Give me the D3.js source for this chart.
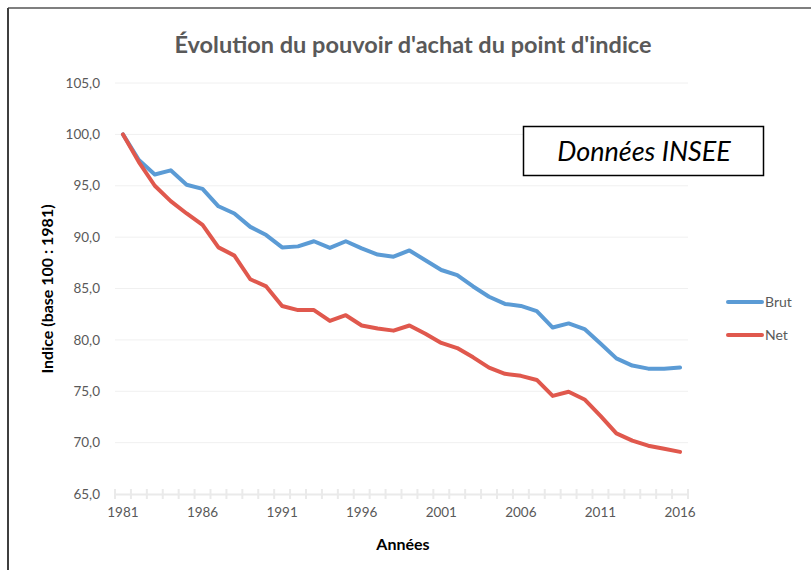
<!DOCTYPE html>
<html><head><meta charset="utf-8">
<script src="https://cdn.jsdelivr.net/npm/d3@7"></script>
<style>body{margin:0;background:#fff;} svg{display:block;}</style>
</head><body>
<svg id="c" width="811" height="570"></svg>
<script>
const years = d3.range(1981, 2017);
const brut = [100.0,97.5,96.1,96.5,95.1,94.7,93.0,92.3,91.0,90.2,89.0,89.1,89.6,88.95,89.6,88.9,88.3,88.1,88.7,87.75,86.8,86.3,85.2,84.2,83.5,83.3,82.8,81.2,81.6,81.05,79.65,78.2,77.5,77.2,77.2,77.3];
const net  = [100.0,97.3,95.0,93.5,92.3,91.2,89.0,88.2,85.9,85.2,83.3,82.9,82.9,81.85,82.4,81.4,81.1,80.9,81.4,80.6,79.7,79.2,78.3,77.3,76.7,76.5,76.1,74.55,74.95,74.2,72.6,70.9,70.2,69.7,69.4,69.1];
const yTicks = [65,70,75,80,85,90,95,100,105];
const xTickYears = [1981,1986,1991,1996,2001,2006,2011,2016];
const seriesNames = ["Brut","Net"];
const colors = ["#5B9BD5","#E0584D"];

const svg = d3.select("#c");
const font = "Lato, 'Open Sans', sans-serif";

// frame
svg.append("line").attr("x1",8).attr("x2",811).attr("y1",8).attr("y2",8).attr("stroke","#7f7f7f").attr("stroke-width",2);
svg.append("line").attr("x1",8).attr("x2",8).attr("y1",8).attr("y2",570).attr("stroke","#3f3f3f").attr("stroke-width",2);

const x = d3.scaleBand().domain(years).range([115, 688]);
const y = d3.scaleLinear().domain([65,105]).range([494, 83]);
const xc = d => x(d) + x.bandwidth()/2;

// grid
svg.append("g").selectAll("line").data(yTicks.filter(t=>t>65)).join("line")
  .attr("x1",115).attr("x2",688).attr("y1",d=>y(d)).attr("y2",d=>y(d))
  .attr("stroke","#f0f0f0").attr("stroke-width",1);

// y labels
const fmt = v => d3.format(".1f")(v).replace(".", ",");
svg.append("g").selectAll("text").data(yTicks).join("text")
  .attr("x",100).attr("y",d=>y(d)).attr("dy","0.35em").attr("text-anchor","end")
  .attr("font-family",font).attr("font-size",13.5).attr("fill","#595959").text(fmt);

// x axis
const xAxis = d3.axisBottom(x).tickValues([]).tickSizeOuter(0);
const ax = svg.append("g").attr("transform","translate(0,494)").call(xAxis);
ax.select(".domain").attr("stroke","#eaeaea").attr("stroke-width",2);
const bounds = years.map(d=>x(d)).concat([688]);
svg.append("g").selectAll("line").data(bounds).join("line")
  .attr("x1",d=>d).attr("x2",d=>d).attr("y1",489).attr("y2",499)
  .attr("stroke","#eaeaea").attr("stroke-width",2);
svg.append("g").selectAll("text").data(xTickYears).join("text")
  .attr("x",d=>xc(d)).attr("y",517).attr("text-anchor","middle")
  .attr("font-family",font).attr("font-size",13.5).attr("fill","#595959").text(d=>d);

// lines
const line = d3.line().x((d,i)=>xc(years[i])).y(d=>y(d));
[brut, net].forEach((s,i)=>{
  svg.append("path").datum(s).attr("d",line).attr("fill","none")
    .attr("stroke",colors[i]).attr("stroke-width",4).attr("stroke-linejoin","round").attr("stroke-linecap","round");
});

// title
svg.append("text").attr("x",413).attr("y",53).attr("text-anchor","middle")
  .attr("font-family",font).attr("font-size",23.5).attr("font-weight","bold").attr("fill","#595959")
  .text("Évolution du pouvoir d'achat du point d'indice");

// axis titles
svg.append("text").attr("x",403).attr("y",550).attr("text-anchor","middle")
  .attr("font-family",font).attr("font-size",16).attr("font-weight","bold").attr("fill","#000")
  .text("Années");
svg.append("text").attr("transform","translate(53,289) rotate(-90)").attr("text-anchor","middle")
  .attr("font-family",font).attr("font-size",16).attr("font-weight","bold").attr("fill","#000")
  .text("Indice (base 100 : 1981)");

// legend
const ly = [302, 335];
seriesNames.forEach((n,i)=>{
  svg.append("line").attr("x1",728).attr("x2",762).attr("y1",ly[i]).attr("y2",ly[i])
    .attr("stroke",colors[i]).attr("stroke-width",4).attr("stroke-linecap","round");
  svg.append("text").attr("x",765).attr("y",ly[i]).attr("dy","0.35em")
    .attr("font-family",font).attr("font-size",14).attr("fill","#595959").text(n);
});

// annotation box
svg.append("rect").attr("x",523.5).attr("y",126.5).attr("width",240).attr("height",49)
  .attr("fill","#fff").attr("stroke","#000").attr("stroke-width",1.5);
svg.append("text").attr("x",644).attr("y",161).attr("text-anchor","middle")
  .attr("font-family",font).attr("font-size",27).attr("font-style","italic").attr("fill","#000")
  .text("Données INSEE");
</script>
</body></html>
